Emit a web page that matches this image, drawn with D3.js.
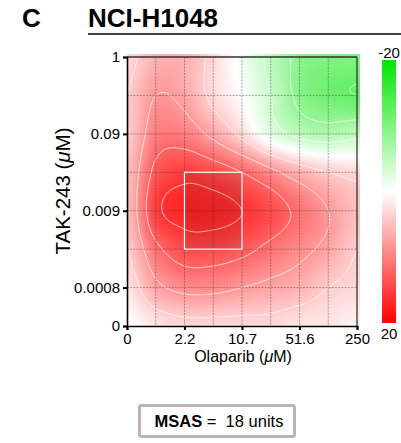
<!DOCTYPE html>
<html><head><meta charset="utf-8">
<script src="https://cdn.jsdelivr.net/npm/d3@7"></script>
<style>
body{margin:0;background:#fff;}
svg{display:block;font-family:"Liberation Sans",Arial,Helvetica,sans-serif;}
</style>
</head><body>
<script>
// ---------- DATA ----------
const olaparibTicks = ["0","2.2","10.7","51.6","250"];      // Olaparib (µM) labels
const olaparibTickIndex = [0,2,4,6,8];
const takTicks = ["0","0.0008","0.009","0.09","1"];          // TAK-243 (µM) labels
const takTickIndex = [0,1,3,5,7];
const nOlaparib = 9;   // dose levels (columns)
const nTak = 8;        // dose levels (rows)
// synergy scores, rows from TAK-243 = 0 (bottom) to 1 µM (top), columns Olaparib 0 -> 250 µM
const row0 = [0, 2, 3, 3, 3, 3, 2, 2, 1];
const row1 = [2, 7, 9, 9, 8, 7, 6, 4, 3];
const row2 = [4, 11, 14, 14, 13, 11, 9, 7, 4];
const row3 = [5, 15, 17, 17, 16, 14, 11, 8, 5];
const row4 = [5, 13, 15, 14, 12, 9, 6, 4, 3];
const row5 = [4, 10, 10, 7, 3, -2, -5, -6, -5];
const row6 = [4, 8, 7, 3, 0, -4, -9, -11, -12];
const row7 = [3, 6, 6, 3, -1, -5, -9, -10, -10];
const synergy = [row0, row1, row2, row3, row4, row5, row6, row7];
const contourLevels = [-12, -8, -4, 4, 8, 12, 16];
const colorStops = [-20, 0, 20];
const colorbarLabels = ["-20", "20"];
const msasValue = 18;
const highlightX = [2, 4];   // Olaparib index range of most synergistic area
const highlightY = [2, 4];   // TAK-243 index range

// ---------- LAYOUT ----------
const W = 401, H = 443;
const L = 127, R = 357, T = 57, B = 326;
const svg = d3.select("body").append("svg").attr("width", W).attr("height", H);

const x = d3.scaleLinear().domain([0, nOlaparib - 1]).range([L, R]);
const y = d3.scaleLinear().domain([0, nTak - 1]).range([B, T]);
const color = d3.scaleLinear().domain(colorStops).range(["#00e600", "#ffffff", "#ff0000"]).clamp(true);

// Catmull-Rom bicubic interpolation of the grid
function get(i, j) {
  i = Math.max(0, Math.min(nOlaparib - 1, i));
  j = Math.max(0, Math.min(nTak - 1, j));
  return synergy[j][i];
}
function cr(p0, p1, p2, p3, t) {
  return 0.5 * (2 * p1 + (-p0 + p2) * t + (2 * p0 - 5 * p1 + 4 * p2 - p3) * t * t + (-p0 + 3 * p1 - 3 * p2 + p3) * t * t * t);
}
function sample(gx, gy) {
  gx = Math.max(0, Math.min(nOlaparib - 1, gx));
  gy = Math.max(0, Math.min(nTak - 1, gy));
  let i = Math.min(nOlaparib - 2, Math.floor(gx)), j = Math.min(nTak - 2, Math.floor(gy));
  const tx = gx - i, ty = gy - j;
  const rows = [];
  for (let k = -1; k <= 2; k++) {
    rows.push(cr(get(i - 1, j + k), get(i, j + k), get(i + 1, j + k), get(i + 2, j + k), tx));
  }
  return cr(rows[0], rows[1], rows[2], rows[3], ty);
}

// heatmap image
const imgL = L, imgR = R + 3, imgT = T - 3, imgB = B;
const cw = imgR - imgL, ch = imgB - imgT;
const canvas = document.createElement("canvas");
canvas.width = cw; canvas.height = ch;
const ctx = canvas.getContext("2d");
const id = ctx.createImageData(cw, ch);
for (let py = 0; py < ch; py++) {
  for (let px = 0; px < cw; px++) {
    const v = sample(x.invert(imgL + px + 0.5), y.invert(imgT + py + 0.5));
    const c = d3.rgb(color(v));
    const k = (py * cw + px) * 4;
    id.data[k] = c.r; id.data[k + 1] = c.g; id.data[k + 2] = c.b; id.data[k + 3] = 255;
  }
}
ctx.putImageData(id, 0, 0);
svg.append("image").attr("x", imgL).attr("y", imgT).attr("width", cw).attr("height", ch)
  .attr("href", canvas.toDataURL());

// clip for contours
svg.append("clipPath").attr("id", "plotclip").append("rect")
  .attr("x", L).attr("y", T).attr("width", R - L).attr("height", B - T);

// contours
const n = 12;
const NX = (nOlaparib - 1) * n + 3, NY = (nTak - 1) * n + 3;
const vals = new Array(NX * NY);
for (let r = 0; r < NY; r++) for (let c = 0; c < NX; c++) {
  vals[r * NX + c] = sample((c - 1) / n, (nTak - 1) - (r - 1) / n);
}
const contours = d3.contours().size([NX, NY]).thresholds(contourLevels)(vals);
const proj = d3.geoTransform({
  point(px, py) { this.stream.point(x((px - 1.5) / n), y((nTak - 1) - (py - 1.5) / n)); }
});
const path = d3.geoPath(proj);
svg.append("g").attr("clip-path", "url(#plotclip)")
  .selectAll("path").data(contours).join("path")
  .attr("d", path).attr("fill", "none")
  .attr("stroke", "#fff").attr("stroke-opacity", 0.65).attr("stroke-width", 1);

// grid lines
const grid = svg.append("g").attr("stroke", "#333").attr("stroke-opacity", 0.6)
  .attr("stroke-width", 0.7).attr("stroke-dasharray", "2,1.2");
grid.selectAll(".gx").data(d3.range(1, nOlaparib - 1)).join("line")
  .attr("x1", d => x(d)).attr("x2", d => x(d)).attr("y1", T).attr("y2", B);
grid.selectAll(".gy").data(d3.range(1, nTak - 1)).join("line")
  .attr("y1", d => y(d)).attr("y2", d => y(d)).attr("x1", L).attr("x2", R);

// highlight box
svg.append("rect")
  .attr("x", x(highlightX[0])).attr("y", y(highlightY[1]))
  .attr("width", x(highlightX[1]) - x(highlightX[0])).attr("height", y(highlightY[0]) - y(highlightY[1]))
  .attr("fill", "#000").attr("fill-opacity", 0.09)
  .attr("stroke", "#fff").attr("stroke-width", 1.2);

// frame top/right
svg.append("line").attr("x1", L).attr("x2", R).attr("y1", T).attr("y2", T).attr("stroke", "#333").attr("stroke-width", 1.3);
svg.append("line").attr("x1", R).attr("x2", R).attr("y1", T).attr("y2", B).attr("stroke", "#333").attr("stroke-width", 1.3);

// axes
const xAxis = d3.axisBottom(x).tickValues(olaparibTickIndex).tickFormat((d, i) => olaparibTicks[i]).tickSize(4).tickPadding(3);
const yAxis = d3.axisLeft(y).tickValues(takTickIndex).tickFormat((d, i) => takTicks[i]).tickSize(4).tickPadding(3);
const gx = svg.append("g").attr("transform", `translate(0,${B})`).call(xAxis);
const gy = svg.append("g").attr("transform", `translate(${L},0)`).call(yAxis);
[gx, gy].forEach(g => {
  g.select(".domain").attr("stroke", "#000").attr("stroke-width", 1.6);
  g.selectAll(".tick line").attr("stroke", "#000").attr("stroke-width", 2);
  g.selectAll(".tick text").attr("font-size", 15).attr("fill", "#000")
    .attr("font-family", "'Liberation Sans',Arial,sans-serif");
});

// axis titles
const xt = svg.append("text").attr("x", 243).attr("y", 362).attr("text-anchor", "middle").attr("font-size", 16);
xt.append("tspan").text("Olaparib (");
xt.append("tspan").attr("font-style", "italic").text("\u03bc");
xt.append("tspan").text("M)");
const yt = svg.append("text").attr("transform", "translate(70,191) rotate(-90)").attr("text-anchor", "middle").attr("font-size", 20.5);
yt.append("tspan").text("TAK-243 (");
yt.append("tspan").attr("font-style", "italic").text("\u03bc");
yt.append("tspan").text("M)");

// title
svg.append("text").attr("x", 22).attr("y", 27).attr("font-size", 26).attr("font-weight", "bold").text("C");
svg.append("text").attr("x", 88).attr("y", 27).attr("font-size", 26).attr("font-weight", "bold").text("NCI-H1048");
svg.append("line").attr("x1", 88).attr("x2", 401).attr("y1", 34).attr("y2", 34).attr("stroke", "#000").attr("stroke-width", 1.5);

// colorbar
const cb = d3.scaleLinear().domain([-20, 20]).range([60, 323]);
const grad = svg.append("defs").append("linearGradient").attr("id", "cbgrad")
  .attr("x1", 0).attr("x2", 0).attr("y1", 0).attr("y2", 1);
grad.selectAll("stop").data(d3.range(-20, 20.1, 2)).join("stop")
  .attr("offset", d => (d + 20) / 40).attr("stop-color", d => color(d));
svg.append("rect").attr("x", 382).attr("y", cb(-20)).attr("width", 14).attr("height", cb(20) - cb(-20)).attr("fill", "url(#cbgrad)");
svg.append("text").attr("x", 389).attr("y", 58).attr("text-anchor", "middle").attr("font-size", 15).text(colorbarLabels[0]);
svg.append("text").attr("x", 389).attr("y", 339).attr("text-anchor", "middle").attr("font-size", 15).text(colorbarLabels[1]);

// MSAS box
svg.append("rect").attr("x", 139.5).attr("y", 405.5).attr("width", 155).attr("height", 31).attr("rx", 2)
  .attr("fill", "#fff").attr("stroke", "#bdb3b3").attr("stroke-width", 3);
const mt = svg.append("text").attr("x", 219).attr("y", 427).attr("text-anchor", "middle").attr("font-size", 16.5);
mt.append("tspan").attr("font-weight", "bold").text("MSAS");
mt.append("tspan").attr("xml:space", "preserve").text(" =  " + msasValue + " units");
</script>
</body></html>
